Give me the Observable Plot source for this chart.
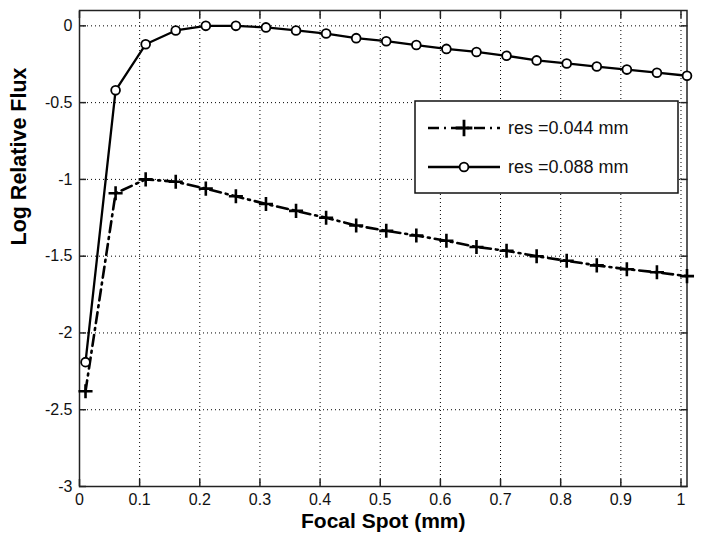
<!DOCTYPE html>
<html>
<head>
<meta charset="utf-8">
<script src="https://cdn.jsdelivr.net/npm/d3@7"></script>
<script src="https://cdn.jsdelivr.net/npm/@observablehq/plot@0.6"></script>
<style>
  html, body { margin: 0; padding: 0; background: #fff; }
  #wrap { position: relative; width: 701px; height: 546px; }
  #legend { position: absolute; left: 0; top: 0; pointer-events: none; }
</style>
</head>
<body>
<div id="wrap"></div>
<script>
const focalSpot = [0.01,0.06,0.11,0.16,0.21,0.26,0.31,0.36,0.41,0.46,0.51,0.56,0.61,0.66,0.71,0.76,0.81,0.86,0.91,0.96,1.01];
const res044 = [-2.38,-1.09,-1.0,-1.015,-1.06,-1.11,-1.16,-1.205,-1.25,-1.3,-1.335,-1.365,-1.4,-1.44,-1.465,-1.5,-1.53,-1.56,-1.585,-1.605,-1.63];
const res088 = [-2.19,-0.42,-0.12,-0.03,0,0,-0.01,-0.03,-0.05,-0.08,-0.1,-0.125,-0.15,-0.17,-0.195,-0.225,-0.245,-0.265,-0.285,-0.305,-0.325];
const seriesNames = ["res =0.044 mm", "res =0.088 mm"];
const xTicks = [0,0.1,0.2,0.3,0.4,0.5,0.6,0.7,0.8,0.9,1];
const yTicks = [0,-0.5,-1,-1.5,-2,-2.5,-3];
const xLabel = "Focal Spot (mm)";
const yLabel = "Log Relative Flux";

const d044 = focalSpot.map((x, i) => ({x, y: res044[i]}));
const d088 = focalSpot.map((x, i) => ({x, y: res088[i]}));

const font = "'Liberation Sans', Arial, sans-serif";
const tickLen = 7;
const plusR = 4.6;
const circR = 4.4;
const dashDot = "11,5,2,5";

const chart = Plot.plot({
  width: 701,
  height: 546,
  marginLeft: 79,
  marginRight: 14.5,
  marginTop: 10,
  marginBottom: 60,
  style: {fontFamily: font, background: "#fff", color: "#111"},
  x: {domain: [0, 1.01]},
  y: {domain: [-3, 0.1]},
  marks: [
    Plot.gridX(xTicks, {stroke: "#000", strokeOpacity: 1, strokeDasharray: "1,3", strokeWidth: 1}),
    Plot.gridY(yTicks, {stroke: "#000", strokeOpacity: 1, strokeDasharray: "1,3", strokeWidth: 1}),
    Plot.axisX(xTicks, {anchor: "bottom", tickSize: 0, tickPadding: 7, fontSize: 16, tickFormat: d => String(d), label: null}),
    Plot.axisY(yTicks, {anchor: "left", tickSize: 0, tickPadding: 7, fontSize: 16, tickFormat: d => String(d), label: null}),
    Plot.axisX(xTicks, {anchor: "bottom", tickSize: tickLen, dy: -tickLen, tickFormat: () => "", label: null, stroke: "#222", strokeWidth: 1.5}),
    Plot.axisX(xTicks, {anchor: "top", tickSize: tickLen, dy: tickLen, tickFormat: () => "", label: null, stroke: "#222", strokeWidth: 1.5}),
    Plot.axisY(yTicks, {anchor: "left", tickSize: tickLen, dx: tickLen, tickFormat: () => "", label: null, stroke: "#222", strokeWidth: 1.5}),
    Plot.axisY(yTicks, {anchor: "right", tickSize: tickLen, dx: -tickLen, tickFormat: () => "", label: null, stroke: "#222", strokeWidth: 1.5}),
    Plot.frame({stroke: "#222", strokeWidth: 1.5}),
    Plot.line(d044, {x: "x", y: "y", stroke: "#000", strokeWidth: 2.6, strokeDasharray: dashDot}),
    Plot.dot(d044, {x: "x", y: "y", symbol: "plus", r: plusR, stroke: "#000", strokeWidth: 2.6}),
    Plot.line(d088, {x: "x", y: "y", stroke: "#000", strokeWidth: 2.3}),
    Plot.dot(d088, {x: "x", y: "y", r: circR, fill: "#fff", stroke: "#000", strokeWidth: 1.8}),
    Plot.text([xLabel], {frameAnchor: "bottom", dy: 41, fontSize: 21, fontWeight: "bold", fill: "#000"}),
    Plot.text([yLabel], {frameAnchor: "left", dx: -60, dy: -3, rotate: -90, fontSize: 21.5, fontWeight: "bold", fill: "#000"})
  ]
});

const wrap = document.getElementById("wrap");
wrap.appendChild(chart);

// Legend overlay
const lg = d3.select(wrap).append("svg")
  .attr("id", "legend")
  .attr("width", 701).attr("height", 546);
const box = {x: 415, y: 101, w: 263, h: 92};
lg.append("rect").attr("x", box.x).attr("y", box.y).attr("width", box.w).attr("height", box.h)
  .attr("fill", "#fff").attr("stroke", "#111").attr("stroke-width", 1.5);
const rows = [
  {y: 128, dash: dashDot, sw: 2.6, marker: "plus"},
  {y: 167, dash: null, sw: 2.3, marker: "circle"}
];
rows.forEach((r, i) => {
  const g = lg.append("g");
  g.append("line").attr("x1", 428).attr("x2", 500).attr("y1", r.y).attr("y2", r.y)
    .attr("stroke", "#000").attr("stroke-width", r.sw)
    .attr("stroke-dasharray", r.dash);
  if (r.marker === "plus") {
    g.append("path").attr("d", d3.symbol(d3.symbolPlus, Math.PI * plusR * plusR * 1.4)())
      .attr("transform", `translate(464,${r.y})`).attr("stroke", "#000").attr("stroke-width", 2.8).attr("fill", "none");
  } else {
    g.append("circle").attr("cx", 464).attr("cy", r.y).attr("r", circR).attr("fill", "#fff").attr("stroke", "#000").attr("stroke-width", 1.8);
  }
  g.append("text").attr("x", 508).attr("y", r.y).attr("dy", "0.35em")
    .attr("font-family", font).attr("font-size", 18).attr("fill", "#111")
    .text(seriesNames[i]);
});
</script>
</body>
</html>
